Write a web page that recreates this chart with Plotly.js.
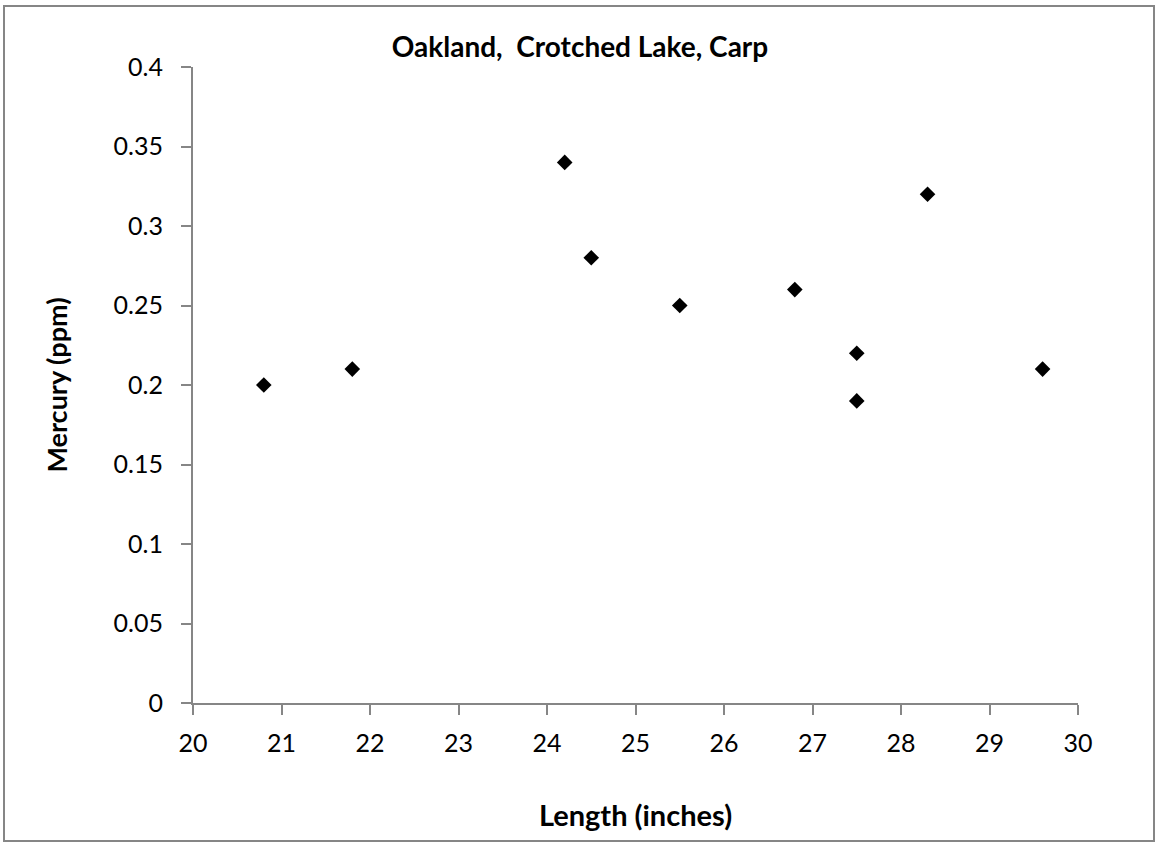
<!DOCTYPE html>
<html>
<head>
<meta charset="utf-8">
<script src="https://cdn.plot.ly/plotly-3.0.1.min.js"></script>
<style>
html,body{margin:0;padding:0;background:#fff;}
#chart{width:1156px;height:842px;}
</style>
</head>
<body>
<div id="chart"></div>
<script>
const lengthInches = [20.8, 21.8, 24.2, 24.5, 25.5, 26.8, 27.5, 27.5, 28.3, 29.6];
const mercuryPpm = [0.20, 0.21, 0.34, 0.28, 0.25, 0.26, 0.22, 0.19, 0.32, 0.21];
const xTickVals = [20, 21, 22, 23, 24, 25, 26, 27, 28, 29, 30];
const yTickVals = [0, 0.05, 0.1, 0.15, 0.2, 0.25, 0.3, 0.35, 0.4];
const yTickText = ['0', '0.05', '0.1', '0.15', '0.2', '0.25', '0.3', '0.35', '0.4'];
const chartTitle = 'Oakland,  Crotched Lake, Carp';
const xTitle = 'Length (inches)';
const yTitle = 'Mercury (ppm)';

const W = 1156, H = 842;
const M = {l: 193, r: 78, t: 67, b: 139};
const pw = W - M.l - M.r, ph = H - M.t - M.b;
const px = v => (v - M.l) / pw;
const py = v => (H - M.b - v) / ph;

const font = 'Lato, "Open Sans", sans-serif';

const trace = {
  x: lengthInches,
  y: mercuryPpm,
  mode: 'markers',
  type: 'scatter',
  marker: {symbol: 'diamond', size: 12, color: '#000000'},
  hoverinfo: 'x+y',
  showlegend: false
};

const layout = {
  width: W, height: H,
  margin: M,
  paper_bgcolor: '#ffffff',
  plot_bgcolor: '#ffffff',
  font: {family: font, color: '#000000', size: 25},
  title: {
    text: '<b>' + chartTitle + '</b>',
    font: {family: font, size: 28, color: '#000000'},
    x: 580 / W, xref: 'container', xanchor: 'center',
    y: 1 - 47 / H, yref: 'container', yanchor: 'middle'
  },
  xaxis: {
    range: [20, 30],
    tickvals: xTickVals,
    ticktext: xTickVals.map(String),
    showgrid: false, zeroline: false,
    showline: true, linecolor: '#868686', linewidth: 2,
    ticks: 'outside', ticklen: 10, tickwidth: 2, tickcolor: '#868686',
    ticklabelstandoff: 7,
    tickfont: {family: font, size: 25, color: '#000000'},
    title: {text: '<b>' + xTitle + '</b>', font: {family: font, size: 29, color: '#000000'}, standoff: 50},
    fixedrange: true
  },
  yaxis: {
    range: [0, 0.4],
    tickvals: yTickVals,
    ticktext: yTickText,
    showgrid: false, zeroline: false,
    showline: true, linecolor: '#868686', linewidth: 2,
    ticks: 'outside', ticklen: 10, tickwidth: 2, tickcolor: '#868686',
    ticklabelstandoff: 13,
    tickfont: {family: font, size: 25, color: '#000000'},
    title: {text: '<b>' + yTitle + '</b>', font: {family: font, size: 27, color: '#000000'}, standoff: 38},
    fixedrange: true
  },
  shapes: [{
    type: 'rect', xref: 'paper', yref: 'paper',
    x0: px(4), x1: px(1154), y0: py(841), y1: py(6),
    line: {color: '#868686', width: 2}, fillcolor: 'rgba(0,0,0,0)', layer: 'below'
  }]
};

Plotly.newPlot('chart', [trace], layout, {displayModeBar: false, staticPlot: true});
</script>
</body>
</html>
